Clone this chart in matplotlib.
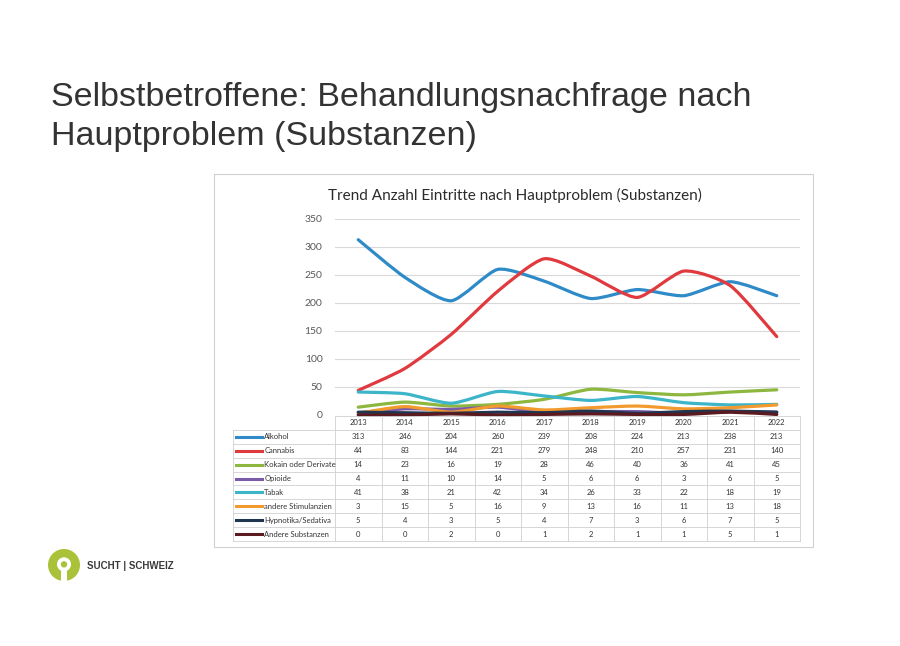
import matplotlib.pyplot as plt
from matplotlib.patches import Rectangle, Circle, PathPatch
from matplotlib.path import Path
from matplotlib.lines import Line2D

## Daten

years = ['2013', '2014', '2015', '2016', '2017', '2018', '2019', '2020', '2021', '2022']
series_names = ['Alkohol', 'Cannabis', 'Kokain oder Derivate', 'Opioide', 'Tabak',
                'andere Stimulanzien', 'Hypnotika/Sedativa', 'Andere Substanzen']
alkohol = [313, 246, 204, 260, 239, 208, 224, 213, 238, 213]
cannabis = [44, 83, 144, 221, 279, 248, 210, 257, 231, 140]
kokain = [14, 23, 16, 19, 28, 46, 40, 36, 41, 45]
opioide = [4, 11, 10, 14, 5, 6, 6, 3, 6, 5]
tabak = [41, 38, 21, 42, 34, 26, 33, 22, 18, 19]
stimulanzien = [3, 15, 5, 16, 9, 13, 16, 11, 13, 18]
hypnotika = [5, 4, 3, 5, 4, 7, 3, 6, 7, 5]
andere = [0, 0, 2, 0, 1, 2, 1, 1, 5, 1]
colors = ['#2E8BC8', '#E03A3E', '#8DB73F', '#7A5BA8', '#3DB5C9',
          '#F29A2E', '#1F3550', '#5B1A20']
yticks = [0, 50, 100, 150, 200, 250, 300, 350]

values = [alkohol, cannabis, kokain, opioide, tabak, stimulanzien, hypnotika, andere]

W, H = 900, 646


def box(x0, y0, x1, y1):
    # Pixel-Box (oben links Ursprung) -> Figure-Koordinaten
    return [x0 / W, 1 - y1 / H, (x1 - x0) / W, (y1 - y0) / H]


def smooth_path(xs, ys, k=0.11):
    # geglaettete Linie wie in Excel (Bezier durch die Datenpunkte)
    verts = [(xs[0], ys[0])]
    codes = [Path.MOVETO]
    n = len(xs)
    for i in range(n - 1):
        x0, y0 = xs[max(i - 1, 0)], ys[max(i - 1, 0)]
        x1, y1 = xs[i], ys[i]
        x2, y2 = xs[i + 1], ys[i + 1]
        x3, y3 = xs[min(i + 2, n - 1)], ys[min(i + 2, n - 1)]
        verts += [(x1 + (x2 - x0) * k, y1 + (y2 - y0) * k),
                  (x2 - (x3 - x1) * k, y2 - (y3 - y1) * k),
                  (x2, y2)]
        codes += [Path.CURVE4] * 3
    return Path(verts, codes)


fig = plt.figure(figsize=(9, 6.46), dpi=100)
fig.patch.set_facecolor('white')

# Folientitel
fig.text(51 / W, 1 - 82 / H, 'Selbstbetroffene: Behandlungsnachfrage nach\nHauptproblem (Substanzen)',
         fontsize=24.5, color='#333333', family='Liberation Sans', va='top', ha='left',
         linespacing=1.33)

# Rahmen des Diagramms
fig.patches.append(Rectangle((214 / W, 1 - 547 / H), 599 / W, 373 / H,
                             transform=fig.transFigure, facecolor='none',
                             edgecolor='#D0D0D0', linewidth=0.8, zorder=-1))

fig.text(515 / W, 1 - 195 / H, 'Trend Anzahl Eintritte nach Hauptproblem (Substanzen)',
         fontsize=11, color='#2B2B2B', family='Lato', ha='center', va='center')

## Linien

ax = fig.add_axes(box(335, 219, 800, 415))
ax.patch.set_alpha(0)
x = list(range(len(years)))
for vals, col in zip(values, colors):
    ax.add_patch(PathPatch(smooth_path(x, vals), facecolor='none', edgecolor=col,
                           linewidth=2.3, joinstyle='round', capstyle='round',
                           clip_on=False, zorder=3))
ax.set_xlim(-0.5, len(years) - 0.5)
ax.set_ylim(0, 350)
ax.set_yticks(yticks)
ax.set_yticklabels([str(t) for t in yticks], fontsize=7.5, color='#595959', family='Lato')
ax.set_xticks([])
ax.tick_params(axis='y', length=0, pad=9)
ax.grid(axis='y', color='#D9D9D9', linewidth=0.8)
ax.set_axisbelow(True)
for s in ax.spines.values():
    s.set_visible(False)

## Tabelle

lab_w = (335 - 233) / 46.5
tx = fig.add_axes(box(233, 416, 800, 541))
tx.set_xlim(-0.5 - lab_w, len(years) - 0.5)
tx.set_ylim(len(series_names) + 1, 0)
tx.axis('off')
grid_c = '#D0D0D0'
nrows = len(series_names) + 1
# horizontale Linien
for r in range(nrows + 1):
    x0 = -0.5 if r == 0 else -0.5 - lab_w
    tx.plot([x0, len(years) - 0.5], [r, r], color=grid_c, linewidth=0.6, clip_on=False)
# vertikale Linien
tx.plot([-0.5 - lab_w, -0.5 - lab_w], [1, nrows], color=grid_c, linewidth=0.6, clip_on=False)
for c in range(len(years) + 1):
    tx.plot([c - 0.5, c - 0.5], [0, nrows], color=grid_c, linewidth=0.6, clip_on=False)

for i, yr in enumerate(years):
    tx.text(i, 0.5, yr, fontsize=5.5, ha='center', va='center', color='#333333', family='Lato')

for r, (name, vals, col) in enumerate(zip(series_names, values, colors)):
    yy = r + 1.5
    k0 = -0.5 - lab_w + 0.07
    tx.add_line(Line2D([k0, k0 + 0.55], [yy, yy], color=col, linewidth=2.2))
    tx.text(k0 + 0.6, yy, name, fontsize=5.5, ha='left', va='center', color='#333333',
            family='Lato')
    for i, v in enumerate(vals):
        tx.text(i, yy, str(v), fontsize=5.5, ha='center', va='center', color='#333333',
                family='Lato')

## Logo

lx = fig.add_axes(box(48, 549, 80, 581))
lx.set_xlim(0, 1)
lx.set_ylim(0, 1)
lx.set_aspect('equal')
lx.axis('off')
lx.add_patch(Circle((0.5, 0.5), 0.5, facecolor='#A9C23A', edgecolor='none'))
lx.add_patch(Circle((0.5, 0.52), 0.22, facecolor='white', edgecolor='none'))
lx.add_patch(Circle((0.5, 0.52), 0.1, facecolor='#A9C23A', edgecolor='none'))
lx.add_patch(Rectangle((0.42, 0.0), 0.16, 0.32, facecolor='white', edgecolor='none'))
fig.text(87 / W, 1 - 566 / H, 'SUCHT | SCHWEIZ', fontsize=7, fontweight='bold',
         color='#3A3A3A', family='Liberation Sans', va='center')

fig.savefig('out.png', dpi=100)
